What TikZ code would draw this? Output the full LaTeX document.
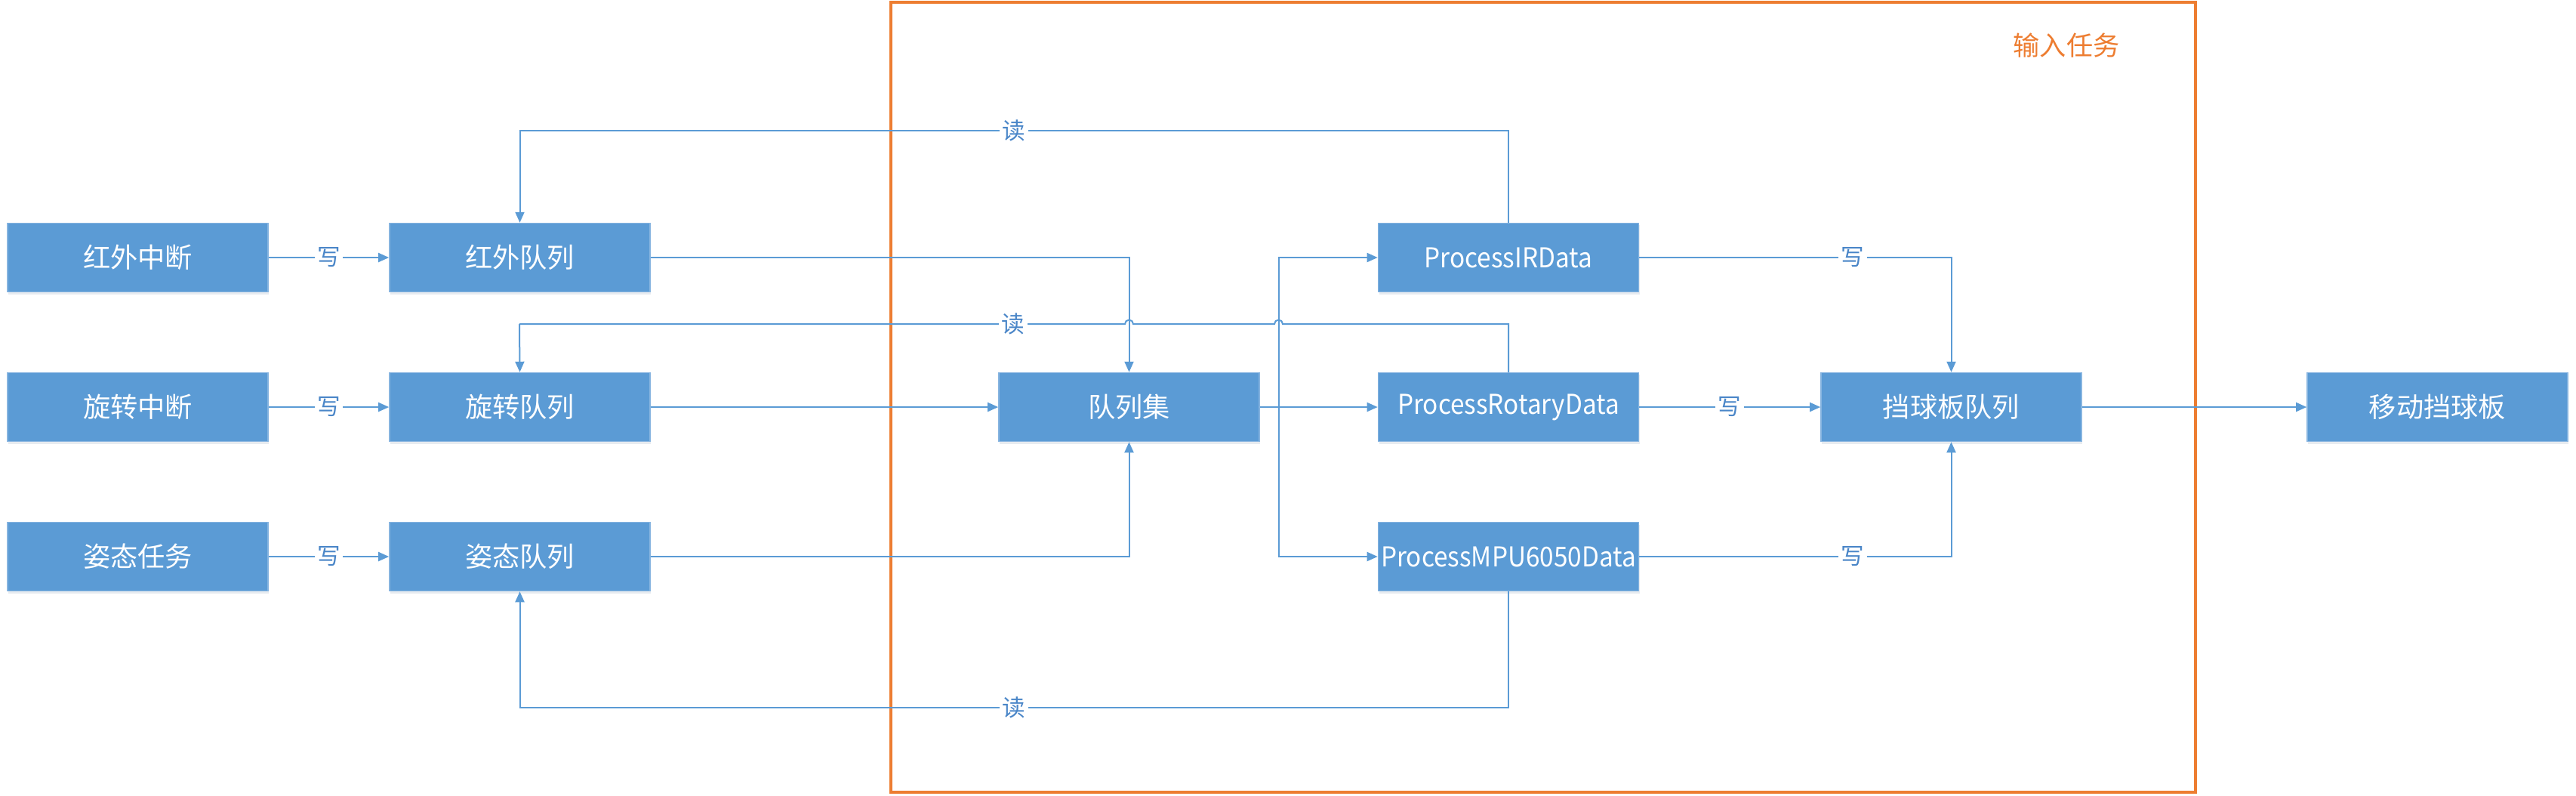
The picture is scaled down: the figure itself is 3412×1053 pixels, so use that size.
\documentclass[tikz,border=0pt]{standalone}
\usepackage{fontspec}
\setmainfont{Noto Sans CJK SC}
\newfontfamily\latn[FakeStretch=0.92]{Noto Sans CJK SC}
\usetikzlibrary{arrows.meta,shadows}
\definecolor{boxblue}{HTML}{5B9BD5}
\definecolor{boxedge}{HTML}{86B4E0}
\definecolor{lineblue}{HTML}{5B9BD5}
\definecolor{lblblue}{HTML}{4A86C8}
\definecolor{frameorange}{HTML}{ED7D31}
\begin{document}
\begin{tikzpicture}[x=0.01cm,y=-0.01cm,
  box/.style={rectangle, fill=boxblue, draw=boxedge, line width=0.4pt,
    minimum width=3.45cm, minimum height=0.91cm, inner sep=0pt, text=white,
    font=\fontsize{10.3pt}{12pt}\selectfont,
    drop shadow={shadow xshift=0.012cm, shadow yshift=-0.03cm, opacity=0.12, fill=boxblue!60!black}},
  latinbox/.style={box, font=\latn\fontsize{10.3pt}{12pt}\selectfont},
  arr/.style={draw=lineblue, line width=0.02cm, -{Triangle[length=0.14cm,width=0.12cm]}},
  ln/.style={draw=lineblue, line width=0.02cm},
  lbl/.style={fill=white, text=lblblue, inner sep=1pt, font=\fontsize{8.7pt}{10pt}\selectfont}]
\useasboundingbox (0,0) rectangle (3412,1053);

% frame
\draw[frameorange, line width=0.04cm] (1180,3) rectangle (2908,1049);
\node[text=frameorange, font=\fontsize{10pt}{12pt}\selectfont] (title) at (2737,60) {输入任务};

% sources
\node[box] (a1) at (182.5,341) {红外中断};
\node[box] (a2) at (182.5,539) {旋转中断};
\node[box] (a3) at (182.5,737) {姿态任务};
% queues
\node[box] (b1) at (688.5,341) {红外队列};
\node[box] (b2) at (688.5,539) {旋转队列};
\node[box] (b3) at (688.5,737) {姿态队列};
% queue set
\node[box] (qs) at (1495.5,539) {队列集};
% process tasks
\node[latinbox] (pir) at (1998,341) {ProcessIRData};
\node[latinbox] (prd) at (1998,539) {ProcessRotaryData};
\node[latinbox] (pmpu) at (1998,737) {ProcessMPU6050Data};
% paddle queue and mover
\node[box] (dq) at (2584.5,539) {挡球板队列};
\node[box] (mv) at (3228.5,539) {移动挡球板};

% write arrows from sources
\draw[arr] (a1) -- node[lbl]{写} (b1);
\draw[arr] (a2) -- node[lbl]{写} (b2);
\draw[arr] (a3) -- node[lbl]{写} (b3);

% queues into queue set
\draw[arr] (b1.east) -| (qs.north);
\draw[arr] (b2) -- (qs);
\draw[arr] (b3.east) -| (qs.south);

% queue set to process tasks
\coordinate (bus) at (1693.5,539);
\draw[arr] (qs) -- (prd);
\draw[arr] (bus) |- (pir.west);
\draw[arr] (bus) |- (pmpu.west);

% read-back lines
\coordinate (r1) at (1998,173);
\draw[arr] (pir.north) -- (r1) -| node[lbl, pos=0.25]{读} (b1.north);

\coordinate (r2) at (1998,429);
\coordinate (r2l) at (688,429);
\draw[ln] (prd.north) -- (r2) -- (1699,429) arc[start angle=0, end angle=180, radius=0.055cm]
  -- (1501,429) arc[start angle=0, end angle=180, radius=0.055cm] -- (r2l);
\draw[arr] (r2l) -- (b2.north);
\node[lbl] (rd2) at (1342,429) {读};

\coordinate (r3) at (1998,937);
\draw[arr] (pmpu.south) -- (r3) -| node[lbl, pos=0.25]{读} (b3.south);

% writes into paddle queue
\draw[arr] (pir.east) -| node[lbl, pos=0.342]{写} (dq.north);
\draw[arr] (prd) -- node[lbl]{写} (dq);
\draw[arr] (pmpu.east) -| node[lbl, pos=0.342]{写} (dq.south);

% paddle queue to mover
\draw[arr] (dq) -- (mv);
\end{tikzpicture}
\end{document}
